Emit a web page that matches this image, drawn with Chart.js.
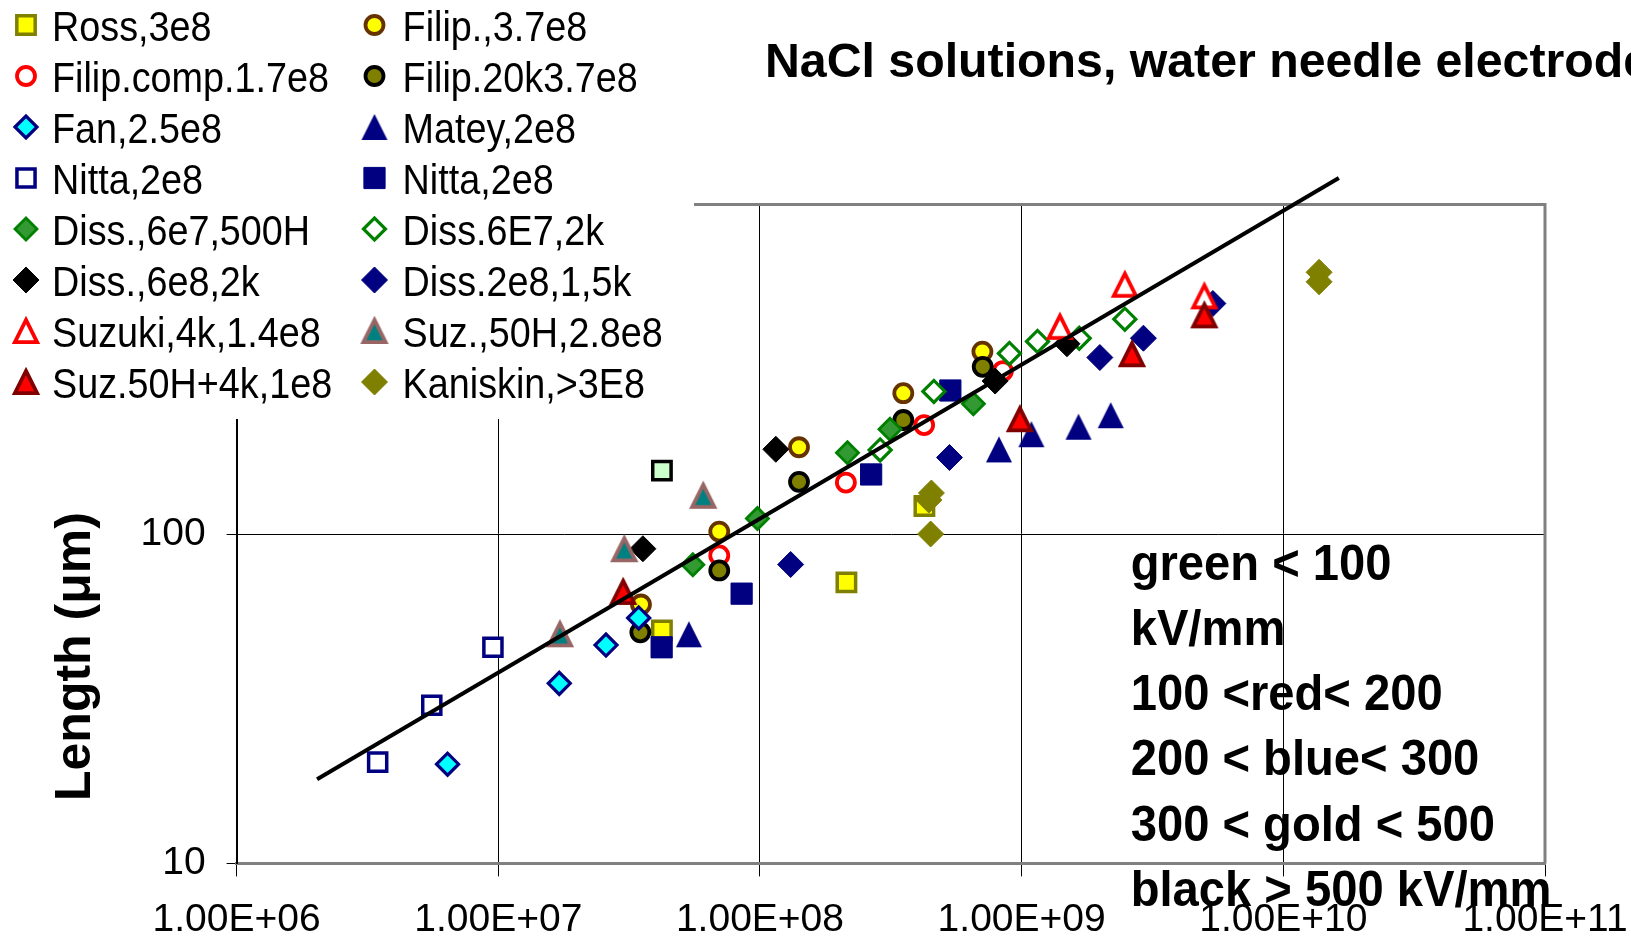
<!DOCTYPE html>
<html>
<head>
<meta charset="utf-8">
<script src="https://cdn.jsdelivr.net/npm/chart.js@4/dist/chart.umd.min.js"></script>
<style>
  html, body { margin: 0; padding: 0; background: #fff; overflow: hidden; }
  canvas { display: block; }
</style>
</head>
<body>
<canvas id="chart" width="1631" height="943"></canvas>
<script>
// Streamer length versus field parameter for NaCl solutions (log-log scatter with power-law trend line)

const seriesNames = [
  'Ross,3e8', 'Filip.,3.7e8',
  'Filip.comp.1.7e8', 'Filip.20k3.7e8',
  'Fan,2.5e8', 'Matey,2e8',
  'Nitta,2e8', 'Nitta,2e8',
  'Diss.,6e7,500H', 'Diss.6E7,2k',
  'Diss.,6e8,2k', 'Diss.2e8,1,5k',
  'Suzuki,4k,1.4e8', 'Suz.,50H,2.8e8',
  'Suz.50H+4k,1e8', 'Kaniskin,>3E8'
];

// [x, length in µm]
const ross       = [[4.22e7, 51.0], [2.14e8, 71.3], [4.25e8, 121.6]];
const filip      = [[3.51e7, 61.1], [6.99e7, 101.7], [1.41e8, 183.4], [3.53e8, 267.6], [7.08e8, 357.9]];
const filipComp  = [[6.99e7, 86.1], [2.13e8, 143.3], [4.24e8, 214.2], [8.48e8, 312.4]];
const filip20k   = [[3.49e7, 50.3], [6.99e7, 77.5], [1.41e8, 144.0], [3.53e8, 221.9], [7.10e8, 321.8]];
const fan        = [[6.40e6, 20.0], [1.71e7, 35.2], [2.58e7, 46.0], [3.44e7, 55.6]];
const matey      = [[5.35e7, 49.6], [8.19e8, 180.6], [1.09e9, 200.9], [1.65e9, 211.7], [2.19e9, 229.4]];
const nittaOpen  = [[3.46e6, 20.3], [5.57e6, 30.2], [9.54e6, 45.3]];
const nittaSolid = [[4.21e7, 45.3], [8.51e7, 65.9], [2.66e8, 151.6], [5.34e8, 272.7]];
const diss500H   = [[5.54e7, 80.6], [9.78e7, 111.4], [2.16e8, 176.5], [3.14e8, 207.9], [6.54e8, 248.5]];
const diss6E7_2k = [[2.88e8, 179.9], [4.62e8, 270.8], [8.98e8, 353.2], [1.15e9, 384.1], [1.66e9, 393.0], [2.48e9, 448.9]];
const diss6e8_2k = [[3.57e7, 90.2], [1.15e8, 180.8], [7.92e8, 291.3], [1.49e9, 378.0]];
const diss2e8    = [[1.31e8, 80.8], [5.30e8, 170.7], [1.99e9, 343.4], [2.92e9, 393.0], [5.38e9, 501.0]];
const suzuki     = [[1.40e9, 425.6], [2.48e9, 571.3], [4.99e9, 526.7]];
const suz50H     = [[1.72e7, 49.6], [3.03e7, 89.9], [6.07e7, 130.6]];
const suz50H4k   = [[3.00e7, 66.7], [9.85e8, 223.1], [2.64e9, 351.4], [4.99e9, 461.2]];
const kaniskin   = [[4.52e8, 133.2], [4.42e8, 126.8], [4.49e8, 100.0], [1.37e10, 623.0], [1.37e10, 583.0]];
const extraPoint = [[4.22e7, 155.7]];
const trendLine  = [[2.03e6, 18.0], [1.63e10, 1205.0]];

const xTickValues = [1e6, 1e7, 1e8, 1e9, 1e10, 1e11];
const xTickLabels = ['1.00E+06', '1.00E+07', '1.00E+08', '1.00E+09', '1.00E+10', '1.00E+11'];
const yTickValues = [10, 100, 1000];
const yTickLabels = ['10', '100', ''];

const chartTitle = 'NaCl solutions, water needle electrode';
const yAxisTitle = 'Length (\u03BCm)';
const noteLines = ['green < 100', 'kV/mm', '100 <red< 200', '200 < blue< 300', '300 < gold < 500', 'black > 500 kV/mm'];

// ---- marker helpers ----
function triangleMarker(fill, stroke, lw) {
  const s = 34, c = document.createElement('canvas');
  c.width = s; c.height = s;
  const g = c.getContext('2d');
  const h = 26 - lw;
  const top = (s - h) / 2, bot = top + h, l = (s - h) / 2, r = l + h;
  g.beginPath();
  g.moveTo(s / 2, top); g.lineTo(r, bot); g.lineTo(l, bot); g.closePath();
  g.fillStyle = fill; g.fill();
  if (lw > 0) { g.lineWidth = lw; g.strokeStyle = stroke; g.lineJoin = 'miter'; g.stroke(); }
  return c;
}

const seriesData = [ross, filip, filipComp, filip20k, fan, matey, nittaOpen, nittaSolid,
  diss500H, diss6E7_2k, diss6e8_2k, diss2e8, suzuki, suz50H, suz50H4k, kaniskin];

const seriesStyles = [
  { style: 'rect',    r: 13.0, bg: '#FFFF00', bc: '#808000', bw: 3.5 },
  { style: 'circle',  r: 9.0,  bg: '#FFFF00', bc: '#663300', bw: 3.8 },
  { style: 'circle',  r: 9.0,  bg: '#FFFFFF', bc: '#FF0000', bw: 3.8 },
  { style: 'circle',  r: 9.0,  bg: '#808000', bc: '#000000', bw: 3.8 },
  { style: 'rectRot', r: 11.0, bg: '#00FFFF', bc: '#000080', bw: 3.2 },
  { style: triangleMarker('#000080', '#000080', 0), r: 13, bg: '#000080', bc: '#000080', bw: 0 },
  { style: 'rect',    r: 12.8, bg: '#FFFFFF', bc: '#000080', bw: 3.5 },
  { style: 'rect',    r: 15.0, bg: '#000080', bc: '#000080', bw: 1 },
  { style: 'rectRot', r: 11.0, bg: '#339933', bc: '#008000', bw: 2.8 },
  { style: 'rectRot', r: 11.0, bg: '#FFFFFF', bc: '#008000', bw: 3.2 },
  { style: 'rectRot', r: 13.0, bg: '#000000', bc: '#000000', bw: 1 },
  { style: 'rectRot', r: 13.0, bg: '#000080', bc: '#000080', bw: 1 },
  { style: triangleMarker('#FFFFFF', '#FF0000', 3.8), r: 13, bg: '#FFFFFF', bc: '#FF0000', bw: 0 },
  { style: triangleMarker('#008080', '#996666', 3.8), r: 13, bg: '#008080', bc: '#996666', bw: 0 },
  { style: triangleMarker('#FF0000', '#800000', 3.8), r: 13, bg: '#FF0000', bc: '#800000', bw: 0 },
  { style: 'rectRot', r: 13.0, bg: '#808000', bc: '#808000', bw: 1 }
];

const toXY = arr => arr.map(([x, y]) => ({ x, y }));

const datasets = seriesData.map((d, i) => ({
  label: seriesNames[i],
  data: toXY(d),
  showLine: false,
  pointStyle: seriesStyles[i].style,
  pointRadius: seriesStyles[i].r,
  pointHoverRadius: seriesStyles[i].r,
  pointBackgroundColor: seriesStyles[i].bg,
  pointBorderColor: seriesStyles[i].bc,
  pointBorderWidth: seriesStyles[i].bw,
  order: 100 - i
}));

datasets.push({
  label: '',
  data: toXY(extraPoint),
  showLine: false,
  pointStyle: 'rect',
  pointRadius: 13.0,
  pointBackgroundColor: '#CCFFCC',
  pointBorderColor: '#000000',
  pointBorderWidth: 3.5,
  order: 50
});

datasets.push({
  label: '',
  data: toXY(trendLine),
  showLine: true,
  borderColor: '#000000',
  borderWidth: 4,
  pointRadius: 0,
  clip: false,
  order: 0
});

const legendCount = seriesNames.length;

function scaledText(ctx, text, x, y, font, sx) {
  ctx.save();
  ctx.translate(x, y);
  ctx.scale(sx, 1);
  ctx.font = font;
  ctx.fillText(text, 0, 0);
  ctx.restore();
}

const decorations = {
  id: 'decorations',
  beforeDatasetsDraw(chart) {
    const { ctx, chartArea: a } = chart;
    ctx.save();
    ctx.strokeStyle = '#808080';
    ctx.lineWidth = 3;
    ctx.beginPath();
    ctx.moveTo(a.left, a.top);
    ctx.lineTo(a.right, a.top);
    ctx.lineTo(a.right, a.bottom);
    ctx.stroke();
    ctx.restore();
  },
  afterDraw(chart) {
    const ctx = chart.ctx;
    ctx.save();
    // legend panel
    ctx.fillStyle = '#FFFFFF';
    ctx.fillRect(0, 0, 694, 419);
    for (let i = 0; i < legendCount; i++) {
      const ds = chart.data.datasets[i];
      const col = i % 2, row = Math.floor(i / 2);
      const mx = col ? 374.5 : 26;
      const my = 25 + row * 51;
      ctx.fillStyle = ds.pointBackgroundColor;
      ctx.strokeStyle = ds.pointBorderColor;
      ctx.lineWidth = ds.pointBorderWidth;
      Chart.helpers.drawPoint(ctx, {
        pointStyle: ds.pointStyle, radius: ds.pointRadius, borderWidth: ds.pointBorderWidth, rotation: 0
      }, mx, my);
      ctx.fillStyle = '#000000';
      ctx.textBaseline = 'alphabetic';
      ctx.textAlign = 'left';
      scaledText(ctx, ds.label, col ? 402.6 : 52, my + 15.5, '43px "Liberation Sans", Arial, sans-serif', 0.878);
    }
    // title
    ctx.fillStyle = '#000000';
    ctx.textAlign = 'left';
    ctx.textBaseline = 'alphabetic';
    scaledText(ctx, chartTitle, 765, 77, 'bold 49px "Liberation Sans", Arial, sans-serif', 0.985);
    // y axis title
    ctx.save();
    ctx.translate(89.5, 801);
    ctx.rotate(-Math.PI / 2);
    ctx.font = 'bold 50px "Liberation Sans", Arial, sans-serif';
    ctx.fillText(yAxisTitle, 0, 0);
    ctx.restore();
    // annotation block
    noteLines.forEach((t, k) => {
      scaledText(ctx, t, 1130.7, 579.5 + k * 65.3, 'bold 50px "Liberation Sans", Arial, sans-serif', 0.943);
    });
    ctx.restore();
  }
};

const tickFont = { family: '"Liberation Sans Narrow", "Arial Narrow", "Liberation Sans", sans-serif', size: 39 };

new Chart(document.getElementById('chart'), {
  type: 'scatter',
  data: { datasets },
  options: {
    responsive: false,
    animation: false,
    devicePixelRatio: 1,
    events: [],
    layout: { padding: { left: 0, right: 86, top: 204.6, bottom: 0 } },
    plugins: {
      legend: { display: false },
      tooltip: { enabled: false },
      title: { display: false }
    },
    scales: {
      x: {
        type: 'logarithmic',
        position: 'bottom',
        min: 1e6,
        max: 1e11,
        afterBuildTicks: s => { s.ticks = xTickValues.map(v => ({ value: v })); },
        afterFit: s => { s.height = 79.6; s.paddingLeft = 0; s.paddingRight = 0; },
        ticks: {
          callback: (v, i) => xTickLabels[i],
          font: tickFont,
          color: '#000000',
          padding: 20,
          maxRotation: 0,
          minRotation: 0,
          autoSkip: false
        },
        grid: { color: '#000000', lineWidth: 1, tickLength: 13, drawTicks: true },
        border: { color: '#808080', width: 3 }
      },
      y: {
        type: 'logarithmic',
        position: 'left',
        min: 10,
        max: 1000,
        afterBuildTicks: s => { s.ticks = yTickValues.map(v => ({ value: v })); },
        afterFit: s => { s.width = 236.6; s.paddingTop = 0; s.paddingBottom = 0; },
        ticks: {
          callback: (v, i) => yTickLabels[i],
          font: tickFont,
          color: '#000000',
          padding: 21,
          autoSkip: false
        },
        grid: { color: '#000000', lineWidth: 1, tickLength: 10, drawTicks: true },
        border: { color: '#000000', width: 2 }
      }
    }
  },
  plugins: [decorations]
});
</script>
</body>
</html>
